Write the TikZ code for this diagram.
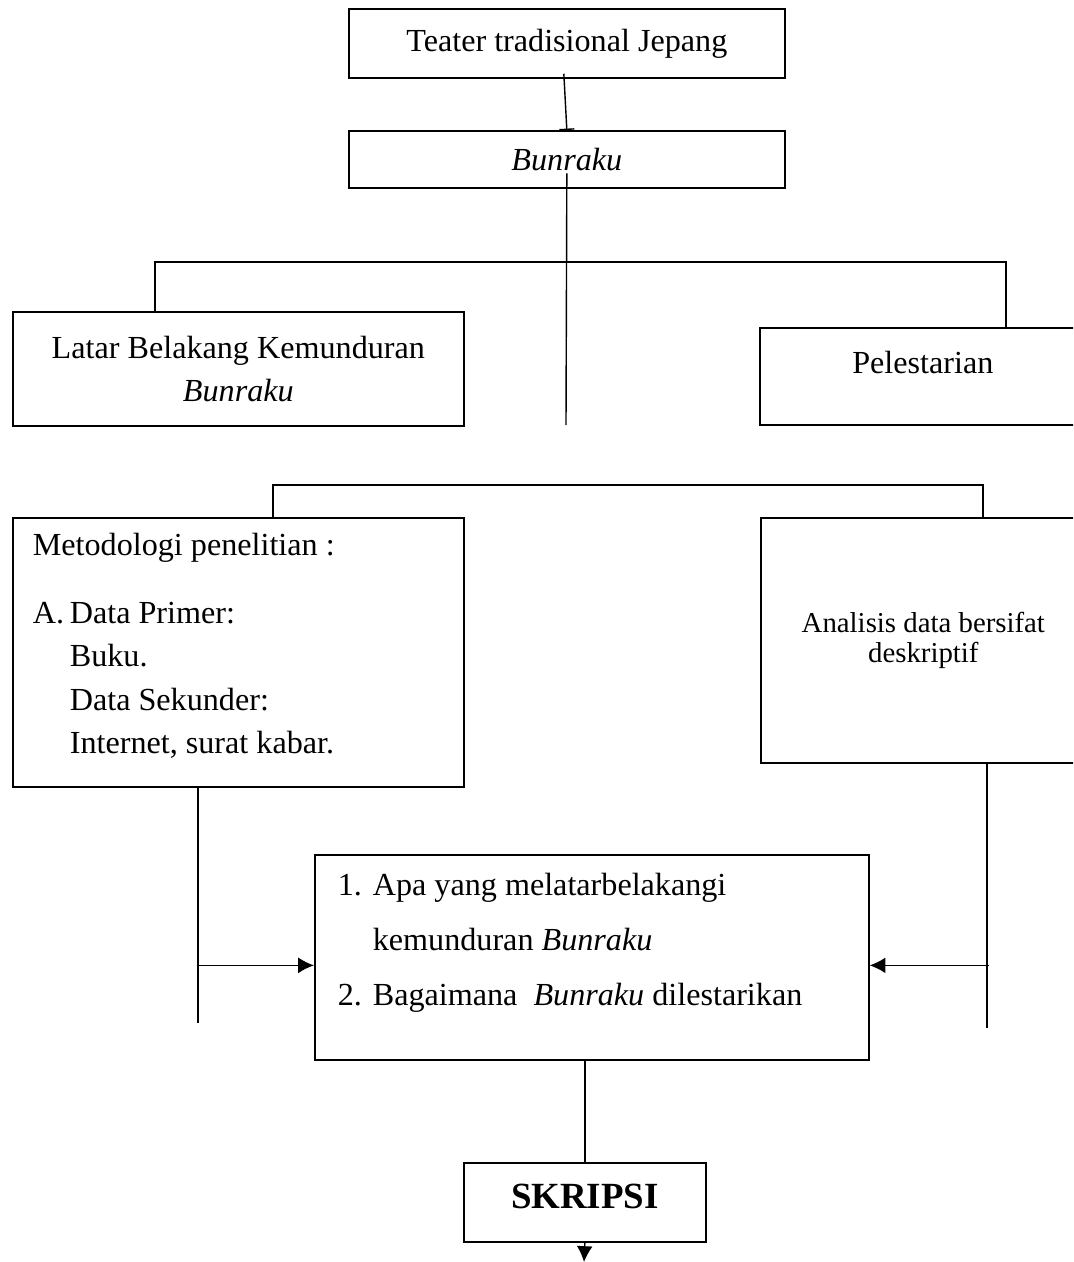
\documentclass[tikz,border=0pt]{standalone}
\usepackage{fontspec}
\setmainfont{Liberation Serif}
\usetikzlibrary{calc,arrows.meta,positioning}
\newcommand{\bodysize}{\fontsize{18.3pt}{24.2pt}\selectfont}

\begin{document}
\begin{tikzpicture}
[   x=0.02cm,y=-0.02cm,
    bnode/.style={draw=black,line width=1pt,inner sep=0pt,anchor=north west,align=center,font=\bodysize},
]
\tikzset{normal arrow/.style={draw,line width=0.8pt,-{Latex[length=9pt,width=9pt]}}}
\tikzset{normal line/.style={draw,line width=0.8pt}}
\useasboundingbox (0,0) rectangle (1073,1262);
\clip (0,0) rectangle (1073,1262);

\node[bnode,minimum width=8.72cm,minimum height=1.38cm] (teater) at (348,8) {Teater tradisional Jepang};
\node[bnode,minimum width=8.72cm,minimum height=1.14cm] (bunraku) at (348,130) {\textit{Bunraku}};
\node[bnode,minimum width=9.02cm,minimum height=2.28cm] (latar) at (12,311) {Latar Belakang Kemunduran\\\textit{Bunraku}};
\node[bnode,minimum width=6.52cm,minimum height=1.94cm] (lestari) at (759,327) {Pelestarian\\[-8pt]\mbox{}};
\node[bnode,minimum width=9.02cm,minimum height=5.38cm,inner xsep=0.4cm,text width=8.22cm,align=left,font=\fontsize{18.3pt}{24.6pt}\selectfont] (metod) at (12,517)
{\spaceskip=0pt Metodologi penelitian :\\[14.5pt]
\makebox[0.74cm][l]{A.}Data Primer:\\
\hspace*{0.74cm}Buku.\\
\hspace*{0.74cm}Data Sekunder:\\
\hspace*{0.74cm}Internet, surat kabar.\\[-14pt]\mbox{}};
\node[bnode,minimum width=6.5cm,minimum height=4.9cm,font=\fontsize{16.4pt}{17.5pt}\selectfont] (analisis) at (760,517) {Analisis data bersifat\\deskriptif};
\node[bnode,minimum width=11.08cm,minimum height=4.1cm,inner xsep=0.46cm,text width=10.16cm,align=left,font=\fontsize{18.3pt}{31.3pt}\selectfont] (quest) at (314,854)
{\spaceskip=0pt \makebox[0.7cm][l]{1.}Apa yang melatarbelakangi\\
\hspace*{0.7cm}kemunduran \textit{Bunraku}\\
\makebox[0.7cm][l]{2.}Bagaimana\ \ \textit{Bunraku} dilestarikan\\[-11.3pt]\mbox{}};
\node[bnode,minimum width=4.84cm,minimum height=1.58cm,text depth=7pt,font=\fontsize{21pt}{25pt}\selectfont\bfseries] (skripsi) at (463,1162) {SKRIPSI};

% free ends
\coordinate (stem) at (566,425);
\coordinate (metodend) at (198,1023);
\coordinate (analend) at (987,1028);
\coordinate (bottom) at (584,1262);

\draw[normal line,-{Bar[width=8.5pt]}] ($(teater.south)+(-3,-5)$) -- (bunraku.north);
\draw[normal line] ($(bunraku.center)+(0,14)$) -- (stem);
\draw[normal line] ($(latar.north west)+(143,0)$) |- ($(lestari.north west)+(247,-65)$) -- ($(lestari.north west)+(247,0)$);
\draw[normal line] ($(metod.north west)+(261,0)$) |- ($(analisis.north west)+(223,-32)$) -- ($(analisis.north west)+(223,0)$);

\draw[normal line] ($(metod.south west)+(186,0)$) -- (metodend);
\path[normal arrow] ($(quest.west)+(-116,8)$) -- ($(quest.west)+(0,8)$);
\draw[normal line] ($(analisis.south west)+(227,0)$) -- (analend);
\path[normal arrow] ($(quest.east)+(119,8)$) -- ($(quest.east)+(0,8)$);

\draw[normal line] (skripsi.north |- quest.south) -- (skripsi.north);
\path[normal arrow] (skripsi.south) -- (bottom);
\end{tikzpicture}
\end{document}
